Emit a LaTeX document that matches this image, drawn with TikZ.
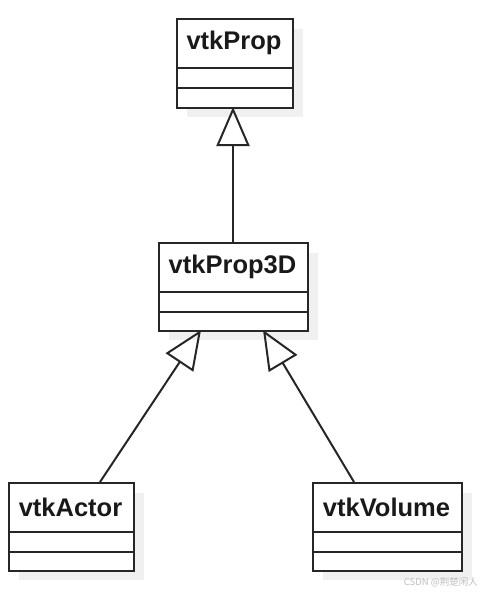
\documentclass[tikz,border=0pt]{standalone}
\usepackage{fontspec}
\setmainfont{Liberation Sans}
\newfontfamily\cjkwm{Noto Sans CJK SC}
\usetikzlibrary{arrows.meta}
\tikzset{
  boxline/.style={draw=black!85, line width=2pt},
  shadowbox/.style={fill=black!6, draw=none},
  classbox/.style={boxline, fill=white, inner sep=0pt, anchor=north west},
  classname/.style={font=\bfseries\fontsize{25.5}{28}\selectfont, text=black!90, inner sep=0pt},
  inherit/.style={draw=black!85, line width=2pt, -{Triangle[open, length=39pt, width=33pt, line width=2pt]}},
  watermark/.style={font=\cjkwm\fontsize{9.5}{11}\selectfont, text=black!25, inner sep=0pt}
}
\begin{document}
\begin{tikzpicture}[x=1pt, y=-1pt]
\useasboundingbox (0,0) rectangle (481,594);
% shadows
\fill[shadowbox] (187,29) rectangle (303,117);
\fill[shadowbox] (169,253) rectangle (318,340);
\fill[shadowbox] (19,493) rectangle (144,580);
\fill[shadowbox] (323,493) rectangle (472,580);
% class boxes
\node[classbox, minimum width=116pt, minimum height=89pt] (prop) at (176,18) {};
\node[classbox, minimum width=149pt, minimum height=88pt] (prop3d) at (158,242) {};
\node[classbox, minimum width=125pt, minimum height=88pt] (actor) at (8,482) {};
\node[classbox, minimum width=149pt, minimum height=88pt] (volume) at (312,482) {};
% compartments
\draw[boxline] (176,68) -- (292,68) (176,88) -- (292,88);
\draw[boxline] (158,292) -- (307,292) (158,312) -- (307,312);
\draw[boxline] (8,532) -- (133,532) (8,552) -- (133,552);
\draw[boxline] (312,532) -- (461,532) (312,552) -- (461,552);
% names
\node[classname] (propname) at (234,43) {vtkProp};
\node[classname] (prop3dname) at (232.5,267) {vtkProp3D};
\node[classname] (actorname) at (70.5,507) {vtkActor};
\node[classname] (volumename) at (386.5,507) {vtkVolume};
% connector anchors
\coordinate (propB) at (233,107);
\coordinate (prop3dT) at (233,242);
\coordinate (prop3dBL) at (201,330);
\coordinate (prop3dBR) at (263,330);
\coordinate (actorT) at (100,482);
\coordinate (volumeT) at (354,482);
% inheritance arrows
\draw[inherit] (prop3dT) -- (propB);
\draw[inherit] (actorT) -- (prop3dBL);
\draw[inherit] (volumeT) -- (prop3dBR);
% watermark
\node[watermark, anchor=east] (wm) at (478,582) {CSDN @荆楚闲人};
\end{tikzpicture}
\end{document}
